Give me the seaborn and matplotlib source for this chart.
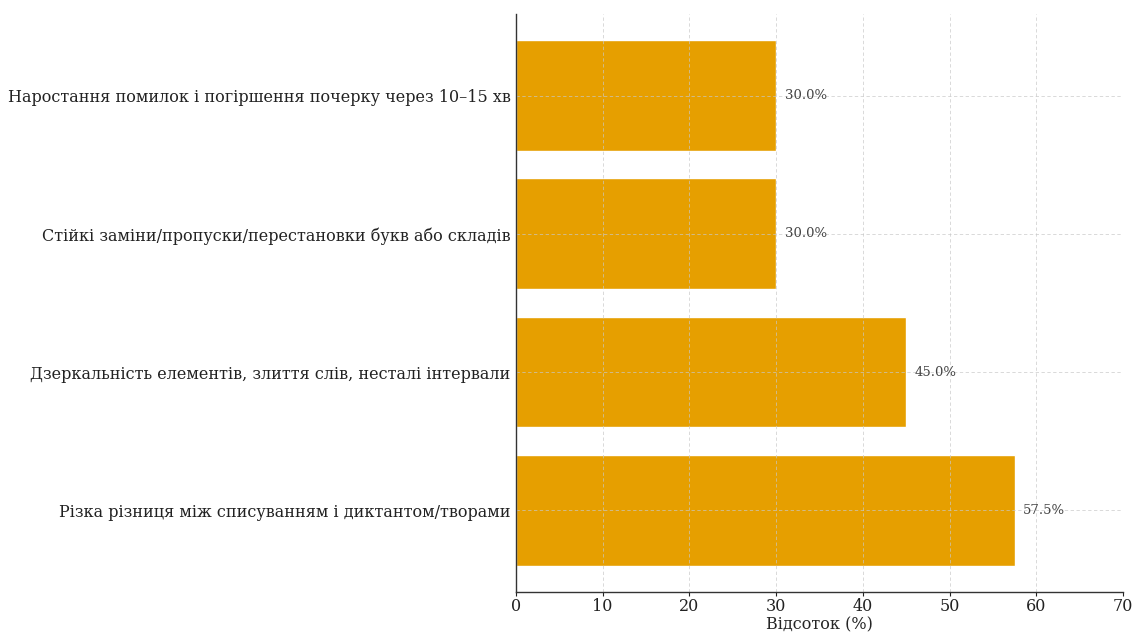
import matplotlib
matplotlib.use("Agg")
import matplotlib.pyplot as plt
import seaborn as sns
import pandas as pd

categories = [
    "Наростання помилок і погіршення почерку через 10–15 хв",
    "Стійкі заміни/пропуски/перестановки букв або складів",
    "Дзеркальність елементів, злиття слів, несталі інтервали",
    "Різка різниця між списуванням і диктантом/творами",
]
values = [30.0, 30.0, 45.0, 57.5]
x_ticks = [0, 10, 20, 30, 40, 50, 60, 70]

sns.set_style("white")
plt.rcParams["font.family"] = ["DejaVu Serif"]

df = pd.DataFrame({"cat": categories, "val": values})

fig = plt.figure(figsize=(11.35, 6.33), dpi=100)
ax = fig.add_axes([0.4546, 0.0648, 0.5348, 0.9132])

sns.barplot(data=df, x="val", y="cat", orient="h", color="#E69F00",
            saturation=1, width=0.8, ax=ax, zorder=2)

ax.set_xlim(0, 70)
ax.set_ylim(len(categories) - 1 + 0.59, -0.59)
ax.set_xticks(x_ticks)
ax.set_xlabel("Відсоток (%)", fontsize=11.5, labelpad=1)
ax.set_ylabel("")
ax.tick_params(axis="both", labelsize=11.5, colors="#222222")
ax.tick_params(axis="x", length=3, width=0.8, bottom=True, pad=1)
ax.tick_params(axis="y", length=0, pad=4)

ax.grid(True, linestyle=(0, (4, 3)), linewidth=0.6, color="#c8c8c8",
        alpha=0.8, zorder=3)
ax.set_axisbelow(False)
for sp in ["top", "right"]:
    ax.spines[sp].set_visible(False)
for sp in ["left", "bottom"]:
    ax.spines[sp].set_color("#333333")
    ax.spines[sp].set_linewidth(1.0)
    ax.spines[sp].set_zorder(5)

for i, v in enumerate(values):
    ax.text(v + 1, i, f"{v:.1f}%", va="center", ha="left",
            fontsize=9.5, color="#444444")

fig.savefig("out.png", dpi=100)
